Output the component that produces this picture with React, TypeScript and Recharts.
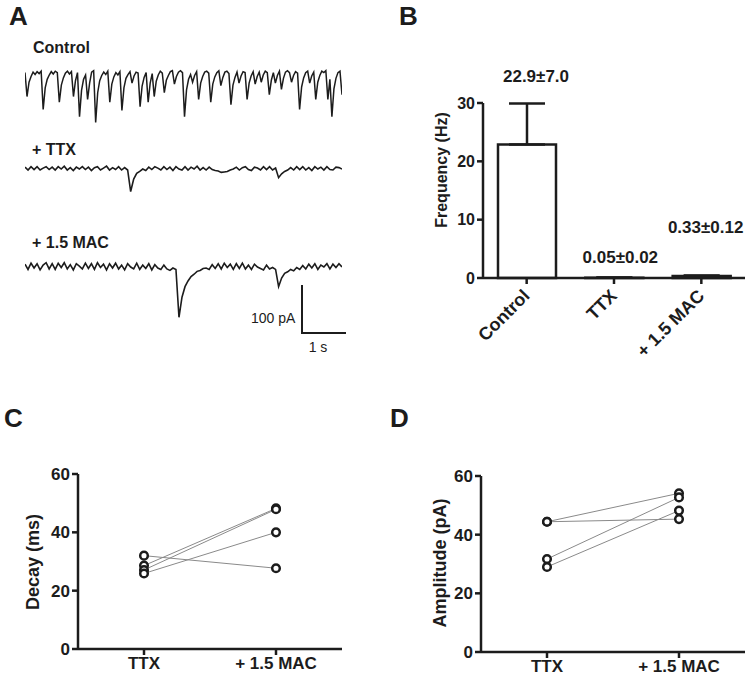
import React from 'react'
import { LineChart, Line, BarChart, Bar, XAxis, YAxis, ErrorBar } from 'recharts'

const FONT = '"Liberation Sans", Arial, Helvetica, sans-serif'
const INK = '#1c1c1c'

// Panel A: whole-cell current traces in pA, baseline at 0
const controlTrace = [
  2, -48, -18, -6, 3, -2, 4, 0, 5, -75,
  -30, -12, -3, 4, -1, 5, 2, -60, -24, -9,
  1, 5, -1, 4, -48, -15, 2, -90, -35, -12,
  -3, -54, -20, 3, 6, -102, -40, -15, -4, 3,
  -2, 5, -60, -22, -7, 2, -3, 4, -77, -30,
  -10, -2, 4, -20, -5, 3, 1, -69, -26, -8,
  2, -60, -20, 0, -48, -16, -3, 5, 1, -40,
  -14, -4, 4, 6, -22, -6, 3, 6, 2, -90,
  -34, -12, -2, -18, -4, 4, -54, -20, -6, 3,
  5, 1, -60, -22, -7, 2, 6, -25, -8, 3,
  5, 0, -65, -24, -8, 3, -20, -5, 4, 2,
  -54, -20, -5, 4, -22, -6, 3, -18, -3, 5,
  2, -44, -14, 2, -20, -4, 5, -33, -10, 3,
  6, 2, -18, -4, 4, 1, -75, -28, -9, 2,
  5, -20, -5, 3, -54, -18, -4, 5, 2, 6,
  -54, -12, -90, -32, -10, 2, 5, -44,
]

const ttxTrace = [
  3, -3, 4, -2, 4, -3, 1, 4, -2, 3,
  -3, 4, -1, 5, -3, 2, -4, 3, -1, 4,
  -2, 3, -4, 2, 4, -3, 1, 5, -3, 2,
  -2, 4, -3, 2, -3, -48, -22, -10, -6, -1,
  -4, 3, -2, 4, 1, -3, 4, -2, 3, -4,
  4, -1, -3, 4, -3, 3, -1, 5, -3, 2,
  -3, 3, -2, -4, -5, -8, -7, -6, -3, -1,
  3, -3, 2, 4, -2, -4, 3, 1, -3, 4,
  -2, 4, -3, 1, -19, -11, -6, -3, 2, -3,
  4, -2, 4, -3, 2, -4, 4, -1, 3, -3,
  4, -2, -3, 3, 2, -1,
]

const macTrace = [
  5, -6, 7, -3, 6, -7, 3, 8, -5, 6,
  -6, 7, -2, 8, -5, 4, -7, 6, 1, -5,
  7, -4, 6, -6, 8, -2, 5, -7, 6, -3,
  7, -5, 3, -7, 6, -1, -5, 7, -6, 3,
  -4, 6, -7, 4, -3, -6, 3, -5, -8, -3,
  -6, -106, -64, -42, -30, -21, -16, -10, -8, -4,
  -3, -6, 4, -4, 6, -5, 7, -2, 5, -6,
  6, -4, 7, -5, 3, -6, 5, -1, -4, -7,
  3, -5, -2, -6, -42, -24, -14, -11, -6, -9,
  -2, -6, 2, -5, 5, -3, 6, -6, 3, -1,
  6, -5, 5, -2, 6, -1,
]

// Panel B: event frequency
const freqGroups = ['Control', 'TTX', '+ 1.5 MAC']
const freqMean = [22.9, 0.05, 0.33]
const freqSem = [7.0, 0.02, 0.12]
const freqNotes = ['22.9±7.0', '0.05±0.02', '0.33±0.12']

// Panels C and D: paired cells
const pairedGroups = ['TTX', '+ 1.5 MAC']
const decayTTX = [32, 28.6, 27.1, 25.9]
const decayMAC = [27.7, 48.2, 47.9, 40]
const ampTTX = [44.4, 44.4, 31.7, 29]
const ampMAC = [54.1, 45.3, 52.7, 48.2]

const noteLift = [62, 15, 43]
const noteShift = [9, 6, 4]

const tickStyle = { fill: INK, fontSize: 17, fontWeight: 700, fontFamily: FONT }

function Trace({ values, top, weight }: { values: number[]; top: number; weight: number }) {
  const data = values.map((v, i) => ({ i, v }))
  return (
    <div style={{ position: 'absolute', left: 25, top }}>
      <LineChart width={317} height={67} data={data} margin={{ top: 0, right: 0, bottom: 0, left: 0 }}>
        <XAxis type="number" dataKey="i" domain={[0, values.length - 1]} hide />
        <YAxis type="number" domain={[-120, 20]} hide />
        <Line
          type="linear"
          dataKey="v"
          stroke={INK}
          strokeWidth={weight}
          dot={false}
          isAnimationActive={false}
        />
      </LineChart>
    </div>
  )
}

const SlantTick = ({ x, y, payload }: any) => (
  <text
    x={0}
    y={0}
    textAnchor="end"
    transform={`translate(${x + 4},${y + 11}) rotate(-45)`}
    fill={INK}
    fontSize={18}
    fontWeight={700}
    fontFamily={FONT}
  >
    {payload.value}
  </text>
)

const NoteLabel = (props: any) => {
  const vb = props.viewBox || props
  const x = props.x ?? vb.x
  const y = props.y ?? vb.y
  const width = props.width ?? vb.width
  let index = props.index
  if (index == null) index = freqMean.indexOf(props.value)
  if (index < 0 || x == null) return null
  return (
    <text
      x={x + width / 2 + noteShift[index]}
      y={y - noteLift[index]}
      textAnchor="middle"
      fill={INK}
      fontSize={17}
      fontWeight={700}
      fontFamily={FONT}
    >
      {freqNotes[index]}
    </text>
  )
}

function FrequencyPanel() {
  const data = freqGroups.map((g, k) => ({ g, mean: freqMean[k], err: [0, freqSem[k]] }))
  return (
    <div style={{ position: 'absolute', left: 400, top: 60 }}>
      <BarChart width={350} height={320} data={data} margin={{ top: 43, right: 5, bottom: 0, left: 0 }}>
        <XAxis
          dataKey="g"
          height={102}
          interval={0}
          stroke={INK}
          strokeWidth={2.5}
          tickSize={6}
          tick={<SlantTick />}
        />
        <YAxis
          width={83}
          domain={[0, 30]}
          ticks={[0, 10, 20, 30]}
          stroke={INK}
          strokeWidth={2.5}
          tickSize={6}
          tick={{ ...tickStyle, fontSize: 16 }}
        />
        <Bar
          dataKey="mean"
          barSize={58}
          fill="#ffffff"
          stroke={INK}
          strokeWidth={2.5}
          isAnimationActive={false}
          label={<NoteLabel />}
        >
          <ErrorBar dataKey="err" direction="y" width={18} stroke={INK} strokeWidth={2.5} />
        </Bar>
      </BarChart>
    </div>
  )
}

function PairedPanel({
  before, after, left, top, width, height, axisWidth, axisHeight, marginRight,
}: {
  before: number[]; after: number[]; left: number; top: number; width: number; height: number
  axisWidth: number; axisHeight: number; marginRight: number
}) {
  const data = pairedGroups.map((g, k) => {
    const row: Record<string, string | number> = { g }
    ;(k === 0 ? before : after).forEach((v, j) => { row['s' + j] = v })
    return row
  })
  return (
    <div style={{ position: 'absolute', left, top }}>
      <LineChart width={width} height={height} data={data} margin={{ top: 34, right: marginRight, bottom: 0, left: 0 }}>
        <XAxis
          dataKey="g"
          height={axisHeight}
          padding={{ left: 66, right: 66 }}
          stroke={INK}
          strokeWidth={2.5}
          tickSize={6}
          tick={tickStyle}
        />
        <YAxis
          width={axisWidth}
          domain={[0, 60]}
          ticks={[0, 20, 40, 60]}
          stroke={INK}
          strokeWidth={2.5}
          tickSize={6}
          tick={tickStyle}
        />
        {before.map((_, j) => (
          <Line
            key={j}
            type="linear"
            dataKey={'s' + j}
            stroke="#8a8a8a"
            strokeWidth={1}
            dot={{ r: 3.8, stroke: INK, strokeWidth: 2.5, fill: '#ffffff' }}
            isAnimationActive={false}
          />
        ))}
      </LineChart>
    </div>
  )
}

export default function App() {
  const bold = { fontFamily: FONT, fontWeight: 700, fill: INK }
  return (
    <div style={{ position: 'absolute', left: 0, top: 0, width: 750, height: 677, background: '#fff', fontFamily: FONT }}>
      <Trace values={controlTrace} top={64} weight={1.5} />
      <Trace values={ttxTrace} top={159} weight={1.6} />
      <Trace values={macTrace} top={257} weight={1.6} />
      <FrequencyPanel />
      <PairedPanel before={decayTTX} after={decayMAC} left={0} top={440} width={350} height={237}
        axisWidth={78} axisHeight={28} marginRight={8} />
      <PairedPanel before={ampTTX} after={ampMAC} left={390} top={442} width={360} height={235}
        axisWidth={91} axisHeight={25} marginRight={5} />
      <svg width={750} height={677} style={{ position: 'absolute', left: 0, top: 0, pointerEvents: 'none' }}>
        <text x={9} y={25} fontSize={26} {...bold}>A</text>
        <text x={399} y={25} fontSize={26} {...bold}>B</text>
        <text x={4} y={427} fontSize={26} {...bold}>C</text>
        <text x={390} y={427} fontSize={26} {...bold}>D</text>

        <text x={33} y={53} fontSize={16} {...bold}>Control</text>
        <text x={32} y={155} fontSize={16} {...bold}>+ TTX</text>
        <text x={32} y={248} fontSize={16} {...bold}>+ 1.5 MAC</text>

        <line x1={302} y1={285} x2={302} y2={334} stroke={INK} strokeWidth={2} />
        <line x1={301} y1={333} x2={346} y2={333} stroke={INK} strokeWidth={2} />
        <text x={251} y={323} fontSize={14} fontFamily={FONT} fill={INK}>100 pA</text>
        <text x={318} y={352} fontSize={14} fontFamily={FONT} fill={INK} textAnchor="middle">1 s</text>

        <text transform="translate(441,170) rotate(-90)" dy="0.35em" textAnchor="middle" fontSize={16} {...bold}>Frequency (Hz)</text>
        <text transform="translate(33,562) rotate(-90)" dy="0.35em" textAnchor="middle" fontSize={18} {...bold}>Decay (ms)</text>
        <text transform="translate(440,563) rotate(-90)" dy="0.35em" textAnchor="middle" fontSize={18} {...bold}>Amplitude (pA)</text>
      </svg>
    </div>
  )
}
